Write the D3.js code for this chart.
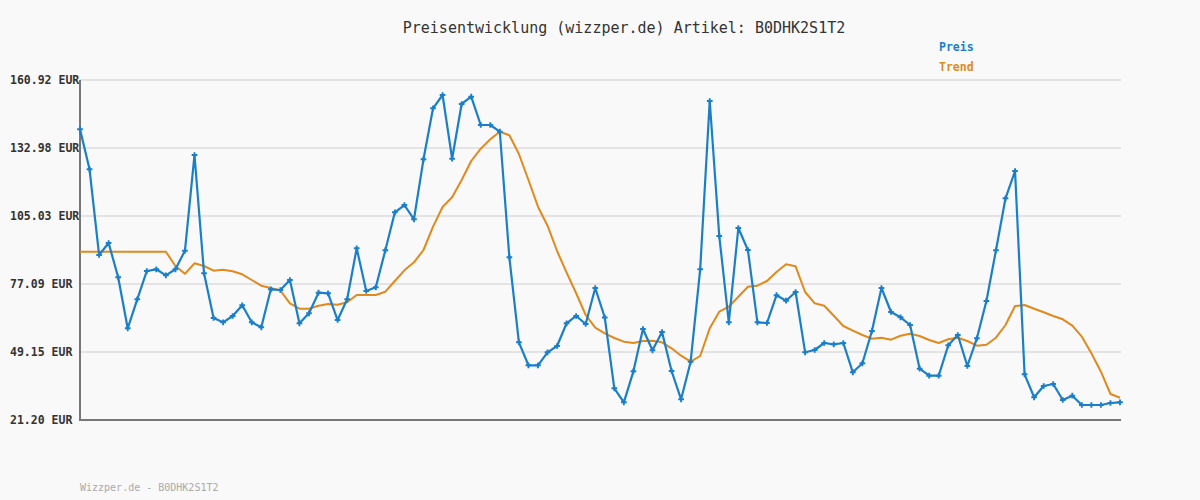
<!DOCTYPE html>
<html>
<head>
<meta charset="utf-8">
<script src="https://cdn.jsdelivr.net/npm/d3@7"></script>
<style>
  html, body { margin: 0; padding: 0; background: #f9f9f9; }
  svg { display: block; }
</style>
</head>
<body>
<svg id="chart" width="1200" height="500"></svg>
<script>
const title = "Preisentwicklung (wizzper.de) Artikel: B0DHK2S1T2";
const footer = "Wizzper.de - B0DHK2S1T2";
const seriesNames = ["Preis", "Trend"];
const yTicks = [21.20, 49.15, 77.09, 105.03, 132.98, 160.92];

const preis = [
  140.66, 124.22, 89.01, 93.94, 79.84, 58.88, 70.80, 82.43, 83.13, 80.66,
  83.13, 90.77, 130.10, 81.48, 63.12, 61.35, 63.94, 68.33, 61.35, 59.29,
  74.91, 74.62, 78.73, 60.94, 65.05, 73.51, 73.27, 62.29, 70.80, 91.76,
  74.21, 75.73, 90.94, 106.55, 109.55, 103.68, 128.33, 149.29, 154.76, 128.58,
  151.06, 154.06, 142.43, 142.43, 139.67, 88.06, 53.13, 43.68, 43.68, 49.02,
  51.61, 60.94, 63.94, 60.65, 75.44, 63.32, 34.23, 28.47, 41.21, 58.60,
  49.84, 57.36, 41.34, 29.71, 45.16, 83.13, 152.29, 96.81, 61.35, 100.10,
  91.06, 61.35, 61.06, 72.49, 70.22, 73.80, 49.02, 49.97, 52.84, 52.31,
  52.84, 40.80, 44.50, 57.77, 75.44, 65.58, 63.40, 60.24, 42.28, 39.41,
  39.41, 51.90, 56.13, 43.39, 54.77, 70.10, 90.94, 112.31, 123.52, 39.98,
  30.53, 35.17, 35.99, 29.42, 31.19, 27.36, 27.36, 27.36, 28.19, 28.47
];

const trend = [
  90.36, 90.36, 90.36, 90.36, 90.36, 90.36, 90.36, 90.36, 90.36, 90.36,
  84.49, 81.32, 85.59, 84.49, 82.55, 82.96, 82.31, 81.07, 78.73, 76.39,
  75.44, 74.42, 69.16, 66.94, 66.94, 68.17, 68.87, 68.58, 69.57, 72.57,
  72.57, 72.57, 73.92, 78.32, 82.72, 86.00, 91.06, 100.64, 108.73, 112.72,
  119.83, 127.63, 132.69, 136.55, 139.67, 138.20, 130.51, 119.83, 108.85, 101.05,
  90.65, 81.73, 73.27, 64.35, 59.13, 56.83, 54.90, 53.38, 52.84, 53.66,
  53.79, 53.13, 50.66, 47.62, 45.16, 47.50, 58.88, 65.71, 67.76, 71.87,
  75.98, 76.39, 78.32, 82.02, 85.18, 84.36, 73.80, 69.16, 68.17, 64.06,
  59.83, 57.90, 56.13, 54.61, 55.02, 54.20, 55.84, 56.66, 55.72, 54.08,
  52.84, 54.40, 55.02, 53.66, 51.73, 52.15, 55.02, 60.24, 68.05, 68.46,
  66.94, 65.46, 63.94, 62.58, 59.95, 55.43, 48.61, 41.05, 31.88, 30.36
];

const colors = { preis: "#1a7fc8", trend: "#e08a1e" };
const svg = d3.select("#chart");
const plotLeft = 80, plotRight = 1120, plotTop = 80, plotBottom = 420;

const x = d3.scaleLinear().domain([0, preis.length - 1]).range([plotLeft, plotRight]);
const y = d3.scaleLinear().domain([yTicks[0], yTicks[yTicks.length - 1]]).range([plotBottom, plotTop]);

// background
svg.append("rect").attr("width", 1200).attr("height", 500).attr("fill", "#f9f9f9");

// gridlines
svg.append("g").selectAll("line").data(yTicks.slice(1)).join("line")
  .attr("x1", plotLeft).attr("x2", plotRight + 1)
  .attr("y1", d => y(d)).attr("y2", d => y(d))
  .attr("stroke", "#e4e4e4").attr("stroke-width", 2);

// y labels
svg.append("g").selectAll("text").data(yTicks).join("text")
  .attr("x", 10).attr("y", d => y(d))
  .attr("dy", "0.35em")
  .attr("font-family", "'DejaVu Sans Mono', 'Liberation Mono', monospace")
  .attr("font-weight", "bold")
  .attr("font-size", "11.5px")
  .attr("fill", "#333")
  .text(d => d.toFixed(2) + " EUR");

// axes lines
svg.append("line").attr("x1", plotLeft).attr("x2", plotLeft).attr("y1", plotTop).attr("y2", plotBottom + 1)
  .attr("stroke", "#777").attr("stroke-width", 2);
svg.append("line").attr("x1", plotLeft - 1).attr("x2", plotRight + 1).attr("y1", plotBottom).attr("y2", plotBottom)
  .attr("stroke", "#777").attr("stroke-width", 2);

// trend line
const line = d3.line().x((d, i) => x(i)).y(d => y(d));
svg.append("path").datum(trend).attr("d", line)
  .attr("fill", "none").attr("stroke", colors.trend).attr("stroke-width", 2)
  .attr("stroke-linejoin", "round");

// preis line
svg.append("path").datum(preis).attr("d", line)
  .attr("fill", "none").attr("stroke", colors.preis).attr("stroke-width", 2.2)
  .attr("stroke-linejoin", "round");

// markers
const cross = d3.symbol().type(d3.symbolCross).size(18);
svg.append("g").selectAll("path").data(preis).join("path")
  .attr("transform", (d, i) => `translate(${x(i)},${y(d)})`)
  .attr("d", cross)
  .attr("fill", colors.preis);

// title
svg.append("text").attr("x", 624).attr("y", 33)
  .attr("text-anchor", "middle")
  .attr("font-family", "'DejaVu Sans Mono', 'Liberation Mono', monospace")
  .attr("font-size", "15px")
  .attr("fill", "#333")
  .text(title);

// legend
svg.append("g").selectAll("text").data(seriesNames).join("text")
  .attr("x", 939).attr("y", (d, i) => 51 + i * 20)
  .attr("font-family", "'DejaVu Sans Mono', 'Liberation Mono', monospace")
  .attr("font-weight", "bold")
  .attr("font-size", "11.5px")
  .attr("fill", (d, i) => i === 0 ? colors.preis : colors.trend)
  .text(d => d);

// footer
svg.append("text").attr("x", 80).attr("y", 491)
  .attr("font-family", "'DejaVu Sans Mono', 'Liberation Mono', monospace")
  .attr("font-size", "10px")
  .attr("fill", "#aaa")
  .text(footer);
</script>
</body>
</html>
